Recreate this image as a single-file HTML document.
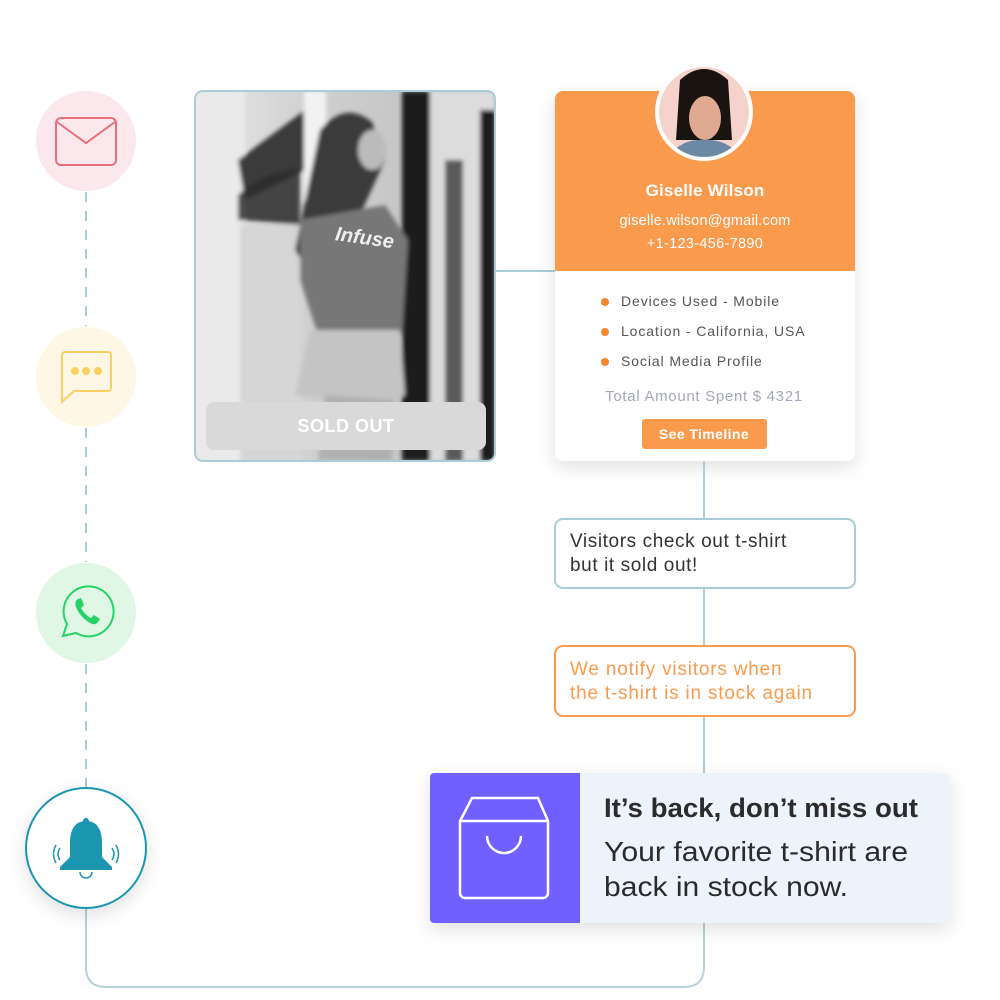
<!DOCTYPE html>
<html><head><meta charset="utf-8"><style>
html,body{margin:0;padding:0;background:#fff;width:1000px;height:1000px;overflow:hidden}
svg text{font-family:"Liberation Sans",sans-serif}
</style></head><body>
<svg width="1000" height="1000" viewBox="0 0 1000 1000" xmlns="http://www.w3.org/2000/svg">
<defs>
<filter id="sh" x="-20%" y="-20%" width="140%" height="150%"><feDropShadow dx="0" dy="6" stdDeviation="9" flood-color="#000" flood-opacity="0.12"/></filter>
<filter id="bl"><feGaussianBlur stdDeviation="2"/></filter>
<clipPath id="pc"><rect x="195" y="91" width="300" height="370" rx="8"/></clipPath>
<clipPath id="av"><circle cx="704" cy="112" r="45"/></clipPath>
<linearGradient id="bg" x1="0" y1="0" x2="1" y2="0"><stop offset="0" stop-color="#e8e8e8"/><stop offset="0.4" stop-color="#cfcfcf"/><stop offset="1" stop-color="#bdbdbd"/></linearGradient>
</defs>
<line x1="86" y1="192" x2="86" y2="326" stroke="#a9cdd6" stroke-width="2" stroke-dasharray="10,9"/>
<line x1="86" y1="428" x2="86" y2="562" stroke="#a9cdd6" stroke-width="2" stroke-dasharray="10,9"/>
<line x1="86" y1="664" x2="86" y2="788" stroke="#a9cdd6" stroke-width="2" stroke-dasharray="10,9"/>
<path d="M86 908 V967 Q86 987 106 987 H684 Q704 987 704 967 V460" fill="none" stroke="#b5d2d9" stroke-width="2"/>
<line x1="496" y1="271" x2="556" y2="271" stroke="#a9cdd6" stroke-width="2"/>
<circle cx="86" cy="141" r="50" fill="#fbe8ec"/>
<rect x="56" y="118" width="60" height="47" rx="5" fill="none" stroke="#e9707d" stroke-width="2"/>
<path d="M57 122 L86 143 L115 122" fill="none" stroke="#e9707d" stroke-width="2"/>
<circle cx="86" cy="377" r="50" fill="#fef7e6"/>
<path d="M66 352 H108 a3 3 0 0 1 3 3 V388 a3 3 0 0 1 -3 3 H74 L62 402 V355 a3 3 0 0 1 3 -3z" fill="none" stroke="#fcd062" stroke-width="2"/>
<circle cx="75" cy="371" r="4" fill="#fcd062"/><circle cx="86" cy="371" r="4" fill="#fcd062"/><circle cx="98" cy="371" r="4" fill="#fcd062"/>
<circle cx="86" cy="613" r="50" fill="#e0f7e6"/>
<path d="M63 636 L67 624 A25 25 0 1 1 76 633 Z" fill="none" stroke="#25d366" stroke-width="2"/>
<path d="M78 599 q-4 2 -2 8 q4 10 14 16 q5 3 8 -1 l2 -3 l-6 -4 l-3 3 q-6 -3 -10 -10 l3 -3 l-3 -7z" fill="#25d366"/>
<circle cx="86" cy="848" r="60" fill="#fff" stroke="#1b96b0" stroke-width="2" filter="url(#sh)"/>
<path d="M86 821 c-12 0 -16 10 -16 22 v14 l-10 10 v3 h52 v-3 l-10 -10 v-14 c0 -12 -4 -22 -16 -22z" fill="#1b96b0"/>
<circle cx="86" cy="821" r="3" fill="#1b96b0"/>
<path d="M80 872 a6 6 0 0 0 12 0" fill="none" stroke="#1b96b0" stroke-width="1.5"/>
<path d="M60 848 q-4 6 0 12 M56 845 q-5 9 0 18 M112 848 q4 6 0 12 M116 845 q5 9 0 18" fill="none" stroke="#1b96b0" stroke-width="1.5"/>
<!-- photo -->
<g clip-path="url(#pc)">
<rect x="195" y="91" width="300" height="370" fill="url(#bg)"/>
<g filter="url(#bl)">
<rect x="195" y="91" width="50" height="370" fill="#eaeaea"/>
<path d="M238 160 L305 110 L305 170 L245 200 Z" fill="#3a3a3a"/>
<path d="M238 195 Q262 172 300 168 L300 225 L238 220Z" fill="#2b2b2b" opacity="0.85"/>
<rect x="240" y="225" width="60" height="236" fill="#d6d6d6"/>
<rect x="304" y="91" width="22" height="110" fill="#f2f2f2"/>
<rect x="402" y="91" width="28" height="370" fill="#1e1e1e"/>
<rect x="430" y="91" width="65" height="370" fill="#dcdcdc"/>
<rect x="480" y="110" width="15" height="351" fill="#1b1b1b"/>
<rect x="445" y="160" width="18" height="301" fill="#5a5a5a"/>
<path d="M320 130 Q345 100 372 122 L385 160 L360 215 L310 275 L295 250 Z" fill="#3a3a3a"/>
<ellipse cx="372" cy="150" rx="14" ry="20" fill="#bbb"/>
<path d="M300 220 L385 205 L408 240 L402 335 L318 335 L300 280 Z" fill="#777"/>
<path d="M310 330 L400 330 L405 395 L380 405 L295 395 Z" fill="#c4c4c4"/>
<path d="M325 395 L395 400 L392 461 L318 461 Z" fill="#b0b0b0"/>
</g>
<text x="335" y="245" font-size="20" font-style="italic" font-weight="bold" fill="#eee" font-family="Liberation Serif,serif" transform="rotate(8 370 240)">Infuse</text>
<rect x="206" y="402" width="280" height="48" rx="8" fill="#d9d9d9"/>
<text x="346" y="432" text-anchor="middle" font-size="18" font-weight="bold" fill="#fff" letter-spacing="0.5">SOLD OUT</text>
</g>
<rect x="195" y="91" width="300" height="370" rx="8" fill="none" stroke="#a9cdd6" stroke-width="2"/>
<!-- profile card -->
<g filter="url(#sh)"><rect x="555" y="91" width="300" height="370" rx="8" fill="#fff"/></g>
<path d="M555 99 a8 8 0 0 1 8 -8 H847 a8 8 0 0 1 8 8 V271 H555 Z" fill="#fa9a4d"/>
<circle cx="704" cy="112" r="49" fill="#fff"/>
<g clip-path="url(#av)">
<rect x="655" y="63" width="98" height="98" fill="#f5d3cc"/>
<path d="M680 80 Q704 58 728 80 L732 140 L676 140 Z" fill="#1a1411"/>
<ellipse cx="705" cy="118" rx="16" ry="22" fill="#e0aa92"/>
<path d="M665 161 Q680 138 704 140 Q728 138 745 161Z" fill="#6b88a4"/>
</g>
<text x="705" y="196" text-anchor="middle" font-size="17" font-weight="bold" fill="#fff" letter-spacing="0.2">Giselle Wilson</text>
<text x="705" y="225" text-anchor="middle" font-size="14.5" fill="#fff" letter-spacing="0.2">giselle.wilson@gmail.com</text>
<text x="705" y="248" text-anchor="middle" font-size="14.5" fill="#fff" letter-spacing="0.3">+1-123-456-7890</text>
<g font-size="14" fill="#555" letter-spacing="0.9">
<circle cx="605" cy="302" r="4" fill="#f5872d"/><text x="621" y="306">Devices Used - Mobile</text>
<circle cx="605" cy="332" r="4" fill="#f5872d"/><text x="621" y="336">Location - California, USA</text>
<circle cx="605" cy="362" r="4" fill="#f5872d"/><text x="621" y="366">Social Media Profile</text>
</g>
<text x="704" y="401" text-anchor="middle" font-size="15" fill="#a4a8b4" letter-spacing="0.7">Total Amount Spent $ 4321</text>
<rect x="642" y="419" width="125" height="30" rx="3" fill="#fa9a4d"/>
<text x="704" y="439" text-anchor="middle" font-size="14" font-weight="bold" fill="#fff" letter-spacing="0.4">See Timeline</text>
<line x1="704" y1="461" x2="704" y2="519" stroke="#a9cdd6" stroke-width="2"/>
<line x1="704" y1="588" x2="704" y2="646" stroke="#a9cdd6" stroke-width="2"/>
<line x1="704" y1="716" x2="704" y2="774" stroke="#a9cdd6" stroke-width="2"/>
<rect x="555" y="519" width="300" height="69" rx="8" fill="#fff" stroke="#a9cdd6" stroke-width="2"/>
<text x="570" y="547" font-size="19" fill="#333" letter-spacing="0.6">Visitors check out t-shirt</text>
<text x="570" y="571" font-size="19" fill="#333" letter-spacing="0.6">but it sold out!</text>
<rect x="555" y="646" width="300" height="70" rx="8" fill="#fff" stroke="#fa9a4d" stroke-width="2"/>
<text x="570" y="675" font-size="19" fill="#fa9a4d" letter-spacing="0.8">We notify visitors when</text>
<text x="570" y="699" font-size="19" fill="#fa9a4d" letter-spacing="0.8">the t-shirt is in stock again</text>
<g filter="url(#sh)"><rect x="430" y="773" width="520" height="150" rx="4" fill="#edf3fb"/></g>
<path d="M434 773 H580 V923 H434 a4 4 0 0 1 -4 -4 V777 a4 4 0 0 1 4 -4z" fill="#7060ff"/>
<path d="M472 798 H538 L548 821 V893 a5 5 0 0 1 -5 5 H465 a5 5 0 0 1 -5 -5 V821 Z M460 821 H548" fill="none" stroke="#fff" stroke-width="2.5"/>
<path d="M487 836 a17 17 0 0 0 34 0" fill="none" stroke="#fff" stroke-width="2.5"/>
<text x="604" y="817" font-size="27" font-weight="bold" fill="#2b2b2b" textLength="314" lengthAdjust="spacingAndGlyphs">It’s back, don’t miss out</text>
<text x="604" y="861" font-size="28" fill="#2b2b2b" textLength="304" lengthAdjust="spacingAndGlyphs">Your favorite t-shirt are</text>
<text x="604" y="896" font-size="28" fill="#2b2b2b" textLength="244" lengthAdjust="spacingAndGlyphs">back in stock now.</text>
</svg>
</body></html>
